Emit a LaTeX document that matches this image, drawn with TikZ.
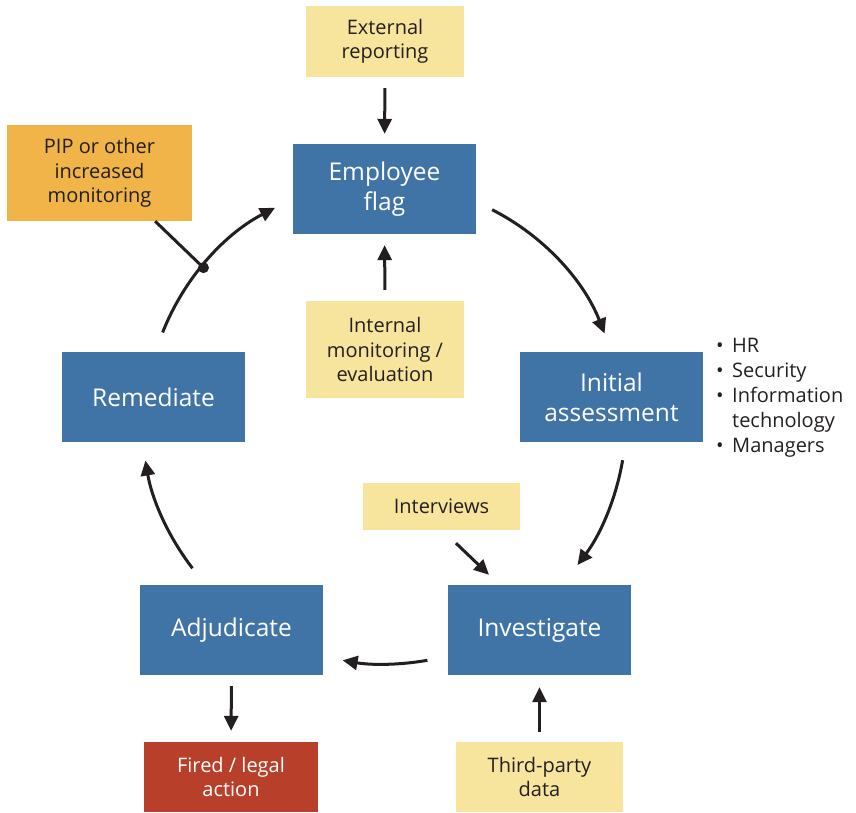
\documentclass[tikz,border=0pt]{standalone}
\usepackage{fontspec}
\setmainfont{Open Sans}
\usepackage{tikz}
\usetikzlibrary{arrows.meta,positioning,calc}
\definecolor{FlagBlue}{HTML}{4174A6}
\definecolor{Sand}{HTML}{F7E59D}
\definecolor{Amber}{HTML}{F0B449}
\definecolor{Brick}{HTML}{B8402A}
\definecolor{Ink}{HTML}{231F20}

\tikzset{
  stagebox/.style={fill=FlagBlue, text=white, minimum width=183pt, minimum height=90pt,
    align=center, font=\fontsize{24.5}{30}\selectfont},
  inputbox/.style={fill=Sand, text=Ink, align=center, font=\fontsize{20}{24.5}\selectfont},
  arr/.style={draw=Ink, line width=3pt, -{Triangle[length=15pt,width=14pt]}},
}
\newcommand{\bul}{\makebox[16pt][l]{\textbullet}}

\begin{document}
\begin{tikzpicture}[x=1pt, y=1pt]
  \useasboundingbox (0,0) rectangle (856,-813);
  % stages of the cycle
  \node[stagebox] (flag) at (384.5,-189) {Employee\\flag};
  \node[stagebox] (init) at (611.5,-397) {Initial\\assessment};
  \node[stagebox] (inv)  at (539.5,-630) {Investigate};
  \node[stagebox] (adj)  at (231.5,-630) {Adjudicate};
  \node[stagebox] (rem)  at (153.5,-397) {Remediate};
  % inputs and outcomes
  \node[inputbox, minimum width=158pt, minimum height=71pt] (ext) at (385,-41.5) {External\\reporting};
  \node[inputbox, minimum width=158pt, minimum height=97pt] (intm) at (385,-349.5) {Internal\\monitoring /\\evaluation};
  \node[inputbox, minimum width=157pt, minimum height=47pt] (intv) at (441.5,-506.5) {Interviews};
  \node[inputbox, minimum width=167pt, minimum height=70pt] (third) at (539.5,-777) {Third-party\\data};
  \node[inputbox, fill=Amber, minimum width=185pt, minimum height=96pt] (pip) at (99.5,-173) {PIP or other\\increased\\monitoring};
  \node[inputbox, fill=Brick, text=white, minimum width=174pt, minimum height=70pt] (fired) at (231,-777) {Fired / legal\\action};
  \node[anchor=north west, align=left, text=Ink, font=\fontsize{20}{25}\selectfont, inner sep=0pt]
    (teams) at (716,-338) {\bul HR\\\bul Security\\\bul Information\\\hspace*{16pt}technology\\\bul Managers};

  % the cycle
  \coordinate (hub) at (385,-420);
  \draw[arr] ($(hub)+(63:236)$) arc[start angle=63, end angle=21.5, radius=236];
  \draw[arr] ($(hub)+(-9.6:241)$) arc[start angle=-9.6, end angle=-37, radius=241];
  \draw[arr] ($(hub)+(-80:244)$) arc[start angle=-80, end angle=-100, radius=244];
  \draw[arr] ($(hub)+(-142.4:243)$) arc[start angle=-142.4, end angle=-170.4, radius=243];
  \draw[arr] ($(hub)+(158.5:239)$) arc[start angle=158.5, end angle=117.4, radius=239];
  \coordinate (join) at ($(hub)+(140:237)$);
  \draw[Ink, line width=3pt] ($(pip.south west)!0.8!(pip.south east)$) -- (join);
  \fill[Ink] (join) circle (5.5);

  % inputs
  \draw[arr, shorten <=11pt, shorten >=10pt] (ext.south) -- (flag.north);
  \draw[arr, shorten <=11pt, shorten >=11pt] (intm.north) -- (flag.south);
  \draw[arr] ([shift={(14.5,-13)}]intv.south) -- ([shift={(-50.5,10)}]inv.north);
  \draw[arr, shorten <=10pt, shorten >=12pt] (third.north) -- (inv.south);
  \draw[arr, shorten <=11pt, shorten >=11pt] (adj.south) -- (fired.north);
\end{tikzpicture}
\end{document}
